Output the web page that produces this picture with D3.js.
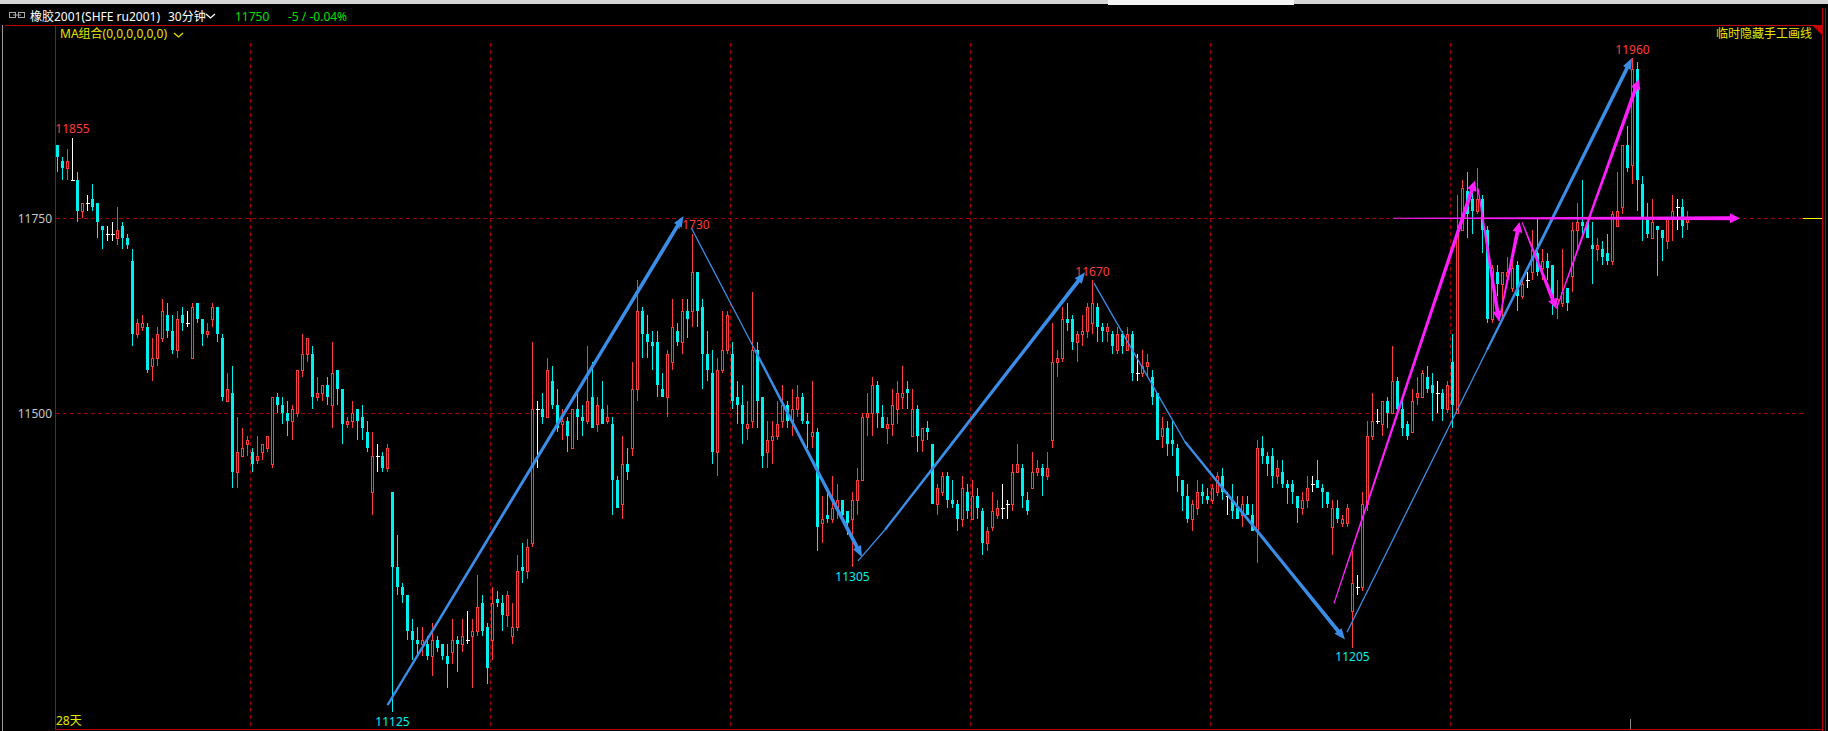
<!DOCTYPE html>
<html><head><meta charset="utf-8">
<script src="https://cdn.jsdelivr.net/npm/d3@7"></script>
<style>html,body{margin:0;padding:0;background:#000;overflow:hidden}</style>
</head><body><svg id="c" width="1828" height="731"></svg>
<script>
// ---- data: 30-minute bars, 橡胶2001 ----
const open = [
11845,11825,11815,11800,11800,11760,11770,11775,11770,11740,
11730,11730,11725,11740,11725,11695,11600,11610,11610,11560,
11570,11595,11625,11605,11580,11625,11615,11570,11640,11620,
11600,11620,11635,11595,11515,11525,11425,11445,11460,11450,
11440,11450,11455,11435,11520,11510,11500,11490,11500,11555,
11575,11575,11520,11525,11535,11510,11555,11530,11485,11490,
11505,11495,11475,11400,11445,11445,11430,11400,11305,11280,
11270,11225,11215,11210,11210,11195,11215,11210,11195,11200,
11215,11210,11215,11220,11225,11260,11230,11215,11265,11260,
11245,11220,11230,11305,11300,11335,11505,11505,11495,11540,
11510,11485,11490,11455,11505,11495,11490,11520,11485,11505,
11490,11485,11415,11385,11435,11455,11530,11630,11600,11590,
11590,11530,11520,11565,11605,11590,11630,11630,11680,11635,
11575,11550,11450,11555,11580,11575,11520,11510,11480,11490,
11580,11520,11450,11465,11470,11490,11510,11490,11505,11520,
11490,11470,11475,11360,11370,11365,11380,11390,11375,11365,
11390,11415,11495,11500,11535,11495,11480,11485,11505,11520,
11530,11470,11505,11465,11480,11460,11385,11400,11420,11390,
11385,11365,11400,11365,11395,11375,11335,11355,11370,11380,
11385,11385,11425,11430,11390,11405,11425,11430,11420,11465,
11565,11570,11620,11620,11590,11600,11605,11615,11635,11610,
11605,11600,11580,11600,11580,11600,11550,11550,11560,11545,
11525,11470,11480,11465,11455,11415,11395,11365,11380,11400,
11395,11390,11400,11420,11395,11390,11380,11370,11385,11370,
11350,11455,11445,11445,11420,11425,11410,11410,11395,11380,
11390,11410,11415,11405,11400,11355,11380,11360,11360,11250,
11280,11280,11385,11470,11490,11485,11515,11500,11540,11505,
11485,11475,11520,11520,11545,11535,11525,11525,11505,11565,
11500,11735,11785,11775,11760,11775,11735,11620,11680,11665,
11675,11660,11690,11650,11670,11680,11705,11685,11695,11690,
11640,11640,11660,11675,11735,11745,11745,11715,11710,11710,
11705,11695,11740,11765,11845,11820,11945,11795,11750,11725,
11740,11735,11720,11750,11765,11765,11745];
const high = [
11845,11830,11840,11855,11810,11770,11780,11795,11770,11740,
11740,11745,11765,11745,11730,11710,11620,11625,11615,11595,
11610,11645,11640,11625,11630,11635,11630,11640,11640,11620,
11615,11640,11635,11600,11550,11560,11495,11480,11470,11455,
11470,11460,11470,11520,11525,11520,11515,11510,11555,11600,
11595,11585,11545,11535,11545,11590,11555,11530,11495,11515,
11505,11510,11490,11475,11460,11450,11460,11400,11345,11285,
11270,11240,11230,11230,11220,11235,11220,11210,11210,11240,
11220,11240,11250,11240,11295,11270,11235,11280,11275,11270,
11275,11260,11320,11335,11340,11590,11515,11525,11570,11560,
11530,11505,11495,11505,11525,11510,11585,11565,11520,11540,
11510,11495,11420,11470,11455,11565,11670,11635,11625,11605,
11605,11550,11580,11645,11615,11645,11645,11730,11680,11645,
11605,11580,11570,11630,11630,11590,11540,11535,11515,11655,
11590,11520,11490,11490,11515,11535,11515,11530,11535,11525,
11500,11540,11480,11395,11400,11420,11410,11390,11375,11400,
11430,11500,11525,11545,11540,11510,11495,11530,11540,11560,
11540,11530,11510,11480,11490,11460,11410,11425,11425,11415,
11390,11420,11410,11415,11405,11380,11355,11400,11390,11410,
11390,11435,11460,11435,11400,11450,11440,11435,11450,11615,
11580,11635,11640,11625,11605,11625,11640,11670,11640,11615,
11615,11605,11610,11605,11610,11605,11575,11580,11575,11555,
11525,11495,11490,11490,11460,11415,11410,11390,11415,11410,
11405,11410,11425,11430,11400,11410,11395,11395,11395,11385,
11465,11470,11450,11455,11440,11440,11415,11415,11395,11400,
11420,11420,11440,11410,11400,11390,11390,11370,11385,11325,
11295,11400,11490,11525,11505,11515,11520,11585,11545,11515,
11490,11530,11545,11555,11560,11550,11540,11530,11540,11600,
11780,11800,11810,11790,11815,11780,11740,11690,11690,11680,
11700,11710,11695,11670,11680,11735,11750,11710,11705,11690,
11670,11710,11660,11745,11770,11800,11745,11745,11725,11720,
11730,11760,11810,11845,11870,11960,11955,11805,11770,11775,
11740,11735,11750,11780,11775,11775,11760];
const low = [
11810,11800,11800,11800,11745,11750,11760,11760,11725,11710,
11720,11720,11715,11710,11710,11585,11595,11605,11550,11540,
11560,11590,11595,11575,11570,11605,11610,11570,11615,11585,
11595,11610,11590,11515,11515,11405,11405,11445,11445,11425,
11435,11440,11450,11430,11500,11485,11470,11465,11495,11545,
11565,11505,11515,11515,11510,11480,11510,11460,11480,11480,
11465,11465,11450,11370,11425,11425,11425,11125,11270,11260,
11215,11190,11195,11195,11190,11170,11200,11190,11155,11185,
11175,11200,11210,11155,11220,11220,11160,11190,11255,11225,
11230,11210,11225,11285,11290,11330,11430,11485,11495,11505,
11475,11465,11450,11455,11465,11470,11485,11480,11475,11485,
11485,11370,11380,11365,11415,11445,11515,11570,11570,11555,
11520,11520,11495,11555,11585,11575,11595,11610,11610,11530,
11540,11435,11420,11550,11575,11505,11485,11460,11465,11480,
11480,11430,11430,11435,11465,11480,11480,11470,11495,11485,
11455,11455,11325,11335,11360,11360,11365,11365,11345,11305,
11370,11415,11470,11470,11480,11480,11460,11470,11485,11505,
11505,11470,11450,11450,11465,11385,11370,11395,11380,11380,
11350,11355,11365,11365,11365,11320,11325,11350,11365,11365,
11365,11375,11425,11380,11370,11405,11420,11395,11415,11455,
11545,11565,11605,11580,11565,11585,11595,11600,11590,11590,
11590,11575,11575,11575,11580,11540,11540,11545,11545,11510,
11465,11455,11445,11445,11400,11375,11360,11350,11370,11385,
11385,11385,11395,11390,11370,11365,11365,11355,11370,11350,
11310,11435,11420,11405,11410,11405,11385,11385,11360,11370,
11380,11400,11405,11380,11380,11320,11360,11355,11355,11205,
11270,11275,11375,11465,11485,11470,11480,11500,11500,11470,
11465,11475,11510,11520,11525,11490,11500,11490,11500,11480,
11500,11735,11725,11730,11755,11705,11615,11615,11650,11620,
11665,11655,11630,11645,11660,11670,11675,11670,11670,11625,
11620,11635,11630,11655,11710,11725,11725,11665,11695,11690,
11690,11690,11740,11755,11810,11795,11760,11720,11725,11725,
11675,11695,11710,11720,11735,11725,11735];
const close = [
11830,11815,11825,11800,11760,11770,11770,11765,11745,11735,
11730,11730,11735,11725,11715,11600,11615,11615,11555,11570,
11600,11630,11605,11580,11620,11615,11615,11635,11620,11600,
11605,11635,11600,11520,11530,11425,11450,11455,11465,11435,
11445,11460,11470,11520,11510,11500,11490,11505,11555,11575,
11595,11520,11525,11535,11520,11550,11530,11485,11490,11500,
11490,11480,11455,11445,11445,11430,11455,11305,11280,11270,
11225,11215,11210,11215,11195,11215,11205,11195,11185,11215,
11210,11220,11215,11225,11255,11225,11180,11260,11260,11245,
11270,11230,11300,11300,11330,11505,11505,11495,11555,11510,
11480,11490,11470,11505,11495,11490,11515,11480,11510,11485,
11495,11415,11380,11435,11425,11530,11630,11600,11590,11585,
11535,11520,11575,11610,11590,11630,11620,11680,11630,11575,
11555,11450,11555,11580,11625,11515,11510,11485,11485,11580,
11515,11445,11465,11470,11485,11510,11490,11505,11520,11490,
11485,11475,11355,11365,11365,11380,11390,11370,11360,11390,
11415,11495,11500,11535,11500,11480,11485,11510,11525,11525,
11525,11505,11470,11480,11475,11385,11405,11420,11390,11385,
11365,11405,11375,11395,11380,11335,11350,11375,11380,11380,
11385,11425,11435,11395,11375,11425,11430,11420,11430,11565,
11570,11620,11615,11590,11600,11605,11635,11640,11610,11605,
11610,11585,11600,11585,11600,11550,11550,11560,11565,11520,
11465,11480,11460,11460,11420,11395,11365,11385,11400,11395,
11390,11405,11420,11400,11395,11375,11365,11385,11370,11350,
11455,11445,11435,11420,11430,11410,11405,11400,11380,11390,
11405,11410,11405,11400,11385,11380,11365,11365,11380,11285,
11280,11385,11470,11490,11490,11515,11500,11540,11505,11480,
11470,11515,11525,11550,11530,11525,11525,11505,11535,11510,
11730,11790,11755,11760,11775,11735,11620,11685,11665,11680,
11680,11685,11650,11665,11670,11710,11680,11695,11685,11640,
11645,11655,11640,11735,11745,11740,11725,11710,11715,11700,
11695,11755,11760,11845,11815,11945,11800,11750,11730,11745,
11735,11725,11750,11760,11765,11740,11750];

const priceTicks = [11500, 11750];
const sessionBreaks = [39, 87, 135, 183, 231, 279];          // first bar of each 4-day block
const pivotHighs = [3, 127, 207, 315];
const pivotLows = [67, 159, 259];
// hand-drawn lines: [startIndex, startPrice, endIndex, endPrice]
const blueThin = [[126.8,11737,139.5,11580],[160.1,11313,165.5,11352],[207.3,11666,225.5,11463],[257.9,11224,285.9,11580]];
const blueArrows = [[66.0,11134,125.2,11753],[139.5,11580,160.9,11318],[165.5,11352,205.5,11680],[225.5,11463,257.5,11215],[285.9,11580,314.9,11960]];
const magentaArrows = [[255.3,11260,283.5,11799],[284.1,11789,288.3,11617],[288.3,11617,292.4,11745],[292.9,11745,299.8,11633],[299.8,11633,316.3,11932],[267.2,11750,336.5,11750]];
const headerTexts = ["橡胶2001(SHFE ru2001)", "30分钟"];
const lastPrice = "11750", changeText = "-5 / -0.04%";
const maText = "MA组合(0,0,0,0,0,0)", hideText = "临时隐藏手工画线", daysText = "28天";

// ---- drawing ----
const W = 1828, H = 731;
const FONT = '"Noto Sans","Noto Sans CJK SC",sans-serif';
const RED = '#ff3c3c', CYAN = '#00f0f0', GRID = '#a00000', BLUE = '#3a8ee8', MAG = '#ff1eff', YEL = '#e6e600';
const svg = d3.select('#c');
svg.append('rect').attr('width', W).attr('height', H).attr('fill', '#000');
svg.append('rect').attr('x', 0).attr('y', 0).attr('width', W).attr('height', 4).attr('fill', '#d6d6d6');
svg.append('rect').attr('x', 1108).attr('y', 0).attr('width', 186).attr('height', 5).attr('fill', '#f4f4f4');

const N = close.length;
const x = d3.scaleLinear().domain([0, N - 1]).range([57.5, 57.5 + 5 * (N - 1)]);
const y = d3.scaleLog().domain([11104.2, 12003.9]).range([729.3, 25]);

const frame = svg.append('g').attr('shape-rendering', 'crispEdges');
frame.append('line').attr('x1', 2.5).attr('x2', 2.5).attr('y1', 25).attr('y2', H).attr('stroke', '#9a9a9a');
frame.append('line').attr('x1', 5).attr('x2', 1822).attr('y1', 25.5).attr('y2', 25.5).attr('stroke', '#c00000');
frame.append('line').attr('x1', 55.5).attr('x2', 55.5).attr('y1', 25).attr('y2', 730).attr('stroke', '#c00000');
frame.append('line').attr('x1', 55).attr('x2', 1822).attr('y1', 729.5).attr('y2', 729.5).attr('stroke', '#c00000');
frame.append('line').attr('x1', 1822.5).attr('x2', 1822.5).attr('y1', 8).attr('y2', H).attr('stroke', '#c00000');
frame.append('line').attr('x1', 1825.5).attr('x2', 1825.5).attr('y1', 8).attr('y2', H).attr('stroke', '#c00000');

// grid
priceTicks.forEach(p => {
  const yy = Math.round(y(p)) + 0.5;
  frame.append('line').attr('x1', 56).attr('x2', 1803).attr('y1', yy).attr('y2', yy)
    .attr('stroke', GRID).attr('stroke-dasharray', '4,3');
  svg.append('text').attr('x', 52).attr('y', yy).attr('text-anchor', 'end').attr('dominant-baseline', 'central')
    .attr('fill', '#c8c8c8').attr('font-family', FONT).attr('font-size', 12).text(p);
});
sessionBreaks.forEach(i => {
  const xx = Math.round((x(i - 1) + x(i)) / 2) + 0.5;
  frame.append('line').attr('x1', xx).attr('x2', xx).attr('y1', 43).attr('y2', 729)
    .attr('stroke', GRID).attr('stroke-dasharray', '4,3');
});
frame.append('line').attr('x1', 1630.5).attr('x2', 1630.5).attr('y1', 719).attr('y2', 729).attr('stroke', '#8a8a8a');
// last price marker
frame.append('line').attr('x1', 1803).attr('x2', 1822).attr('y1', Math.round(y(close[N - 1])) + 0.5)
  .attr('y2', Math.round(y(close[N - 1])) + 0.5).attr('stroke', '#ffff00');

// candles
const cg = svg.append('g').attr('shape-rendering', 'crispEdges');
d3.range(N).forEach(i => {
  const o = open[i], c = close[i], h = high[i], l = low[i];
  const cx = x(i);
  const yt = Math.round(y(Math.max(o, c))), yb = Math.round(y(Math.min(o, c)));
  const yh = Math.round(y(h)), yl = Math.round(y(l));
  if (c > o) {
    if (yh < yt) cg.append('line').attr('x1', cx).attr('x2', cx).attr('y1', yh).attr('y2', yt).attr('stroke', RED);
    if (yl > yb) cg.append('line').attr('x1', cx).attr('x2', cx).attr('y1', yb).attr('y2', yl).attr('stroke', RED);
    cg.append('rect').attr('x', cx - 1).attr('y', yt + 0.5).attr('width', 2).attr('height', Math.max(1, yb - yt))
      .attr('fill', '#000').attr('stroke', RED);
  } else if (c < o) {
    cg.append('line').attr('x1', cx).attr('x2', cx).attr('y1', yh).attr('y2', yl).attr('stroke', CYAN);
    cg.append('rect').attr('x', cx - 1.5).attr('y', yt).attr('width', 3).attr('height', Math.max(2, yb - yt)).attr('fill', CYAN);
  } else {
    cg.append('line').attr('x1', cx).attr('x2', cx).attr('y1', yh).attr('y2', yl).attr('stroke', '#ffffff');
    cg.append('line').attr('x1', cx - 1.5).attr('x2', cx + 2.5).attr('y1', yt + 0.5).attr('y2', yt + 0.5).attr('stroke', '#ffffff');
  }
});

// pivot labels
pivotHighs.forEach(i => {
  svg.append('text').attr('x', x(i)).attr('y', y(high[i]) - 9).attr('text-anchor', 'middle').attr('dominant-baseline', 'central')
    .attr('fill', RED).attr('font-family', FONT).attr('font-size', 12).text(high[i]);
});
pivotLows.forEach(i => {
  svg.append('text').attr('x', x(i)).attr('y', y(low[i]) + 9).attr('text-anchor', 'middle').attr('dominant-baseline', 'central')
    .attr('fill', CYAN).attr('font-family', FONT).attr('font-size', 12).text(low[i]);
});

// hand-drawn lines
function arrow(g, d, color, w0, w1, hl, hw) {
  const x1 = x(d[0]), y1 = y(d[1]), x2 = x(d[2]), y2 = y(d[3]);
  const len = Math.hypot(x2 - x1, y2 - y1), ux = (x2 - x1) / len, uy = (y2 - y1) / len;
  const nx = -uy, ny = ux;
  const bx = x2 - ux * hl, by = y2 - uy * hl;
  const pts = [
    [x1 + nx * w0 / 2, y1 + ny * w0 / 2], [bx + nx * w1 / 2, by + ny * w1 / 2], [bx + nx * hw / 2, by + ny * hw / 2],
    [x2, y2], [bx - nx * hw / 2, by - ny * hw / 2], [bx - nx * w1 / 2, by - ny * w1 / 2], [x1 - nx * w0 / 2, y1 - ny * w0 / 2]];
  g.append('path').attr('d', d3.line()(pts) + 'Z').attr('fill', color);
}
const ag = svg.append('g');
blueThin.forEach(d => ag.append('line').attr('x1', x(d[0])).attr('y1', y(d[1])).attr('x2', x(d[2])).attr('y2', y(d[3]))
  .attr('stroke', BLUE).attr('stroke-width', 1.3));
blueArrows.forEach(d => arrow(ag, d, BLUE, 2.2, 3.8, 11, 9));
magentaArrows.forEach(d => arrow(ag, d, MAG, 1.2, 3.8, 10, 10));

// header
const hg = svg.append('g').attr('font-family', FONT).attr('font-size', 12).attr('dominant-baseline', 'central');
hg.append('rect').attr('x', 9.5).attr('y', 12.5).attr('width', 6).attr('height', 5).attr('fill', 'none').attr('stroke', '#a8a8a8');
hg.append('rect').attr('x', 18.5).attr('y', 12.5).attr('width', 6).attr('height', 5).attr('fill', 'none').attr('stroke', '#a8a8a8');
hg.append('line').attr('x1', 13).attr('x2', 21).attr('y1', 15).attr('y2', 15).attr('stroke', '#a8a8a8');
hg.append('text').attr('x', 30).attr('y', 16).attr('fill', '#ffffff').text(headerTexts[0]);
hg.append('text').attr('x', 168).attr('y', 16).attr('fill', '#ffffff').text(headerTexts[1]);
hg.append('path').attr('d', 'M206,14 L210.5,18 L215,14').attr('fill', 'none').attr('stroke', '#ffffff').attr('stroke-width', 1.3);
hg.append('text').attr('x', 235).attr('y', 16).attr('fill', '#00e000').text(lastPrice);
hg.append('text').attr('x', 288).attr('y', 16).attr('fill', '#00e000').text(changeText);
hg.append('text').attr('x', 60).attr('y', 33).attr('fill', YEL).text(maText);
hg.append('path').attr('d', 'M174,33 L178.5,37 L183,33').attr('fill', 'none').attr('stroke', YEL).attr('stroke-width', 1.3);
hg.append('text').attr('x', 1812).attr('y', 33).attr('text-anchor', 'end').attr('fill', YEL).text(hideText);
hg.append('text').attr('x', 56).attr('y', 720).attr('fill', YEL).text(daysText);
svg.append('path').attr('d', 'M1813,26 L1822,26 L1822,35 Z').attr('fill', '#d00000');
</script></body></html>
